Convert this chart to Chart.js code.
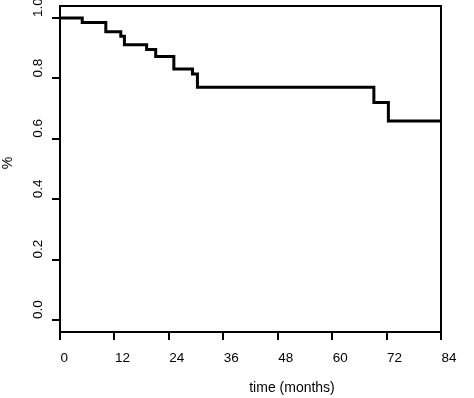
<!DOCTYPE html>
<html>
<head>
<meta charset="utf-8">
<script src="https://cdn.jsdelivr.net/npm/chart.js@4.4.1/dist/chart.umd.min.js"></script>
<style>
  html, body { margin: 0; padding: 0; background: #fff; }
  #wrap { width: 474px; height: 398px; }
</style>
</head>
<body>
<div id="wrap"><canvas id="kmChart" width="474" height="398"></canvas></div>
<script>
// Kaplan-Meier curve
const times    = [0, 4.9, 10.1, 13.4, 14.2, 19.1, 21.1, 25.1, 29.2, 30.3, 69.2, 72.4, 84];
const survival = [1.0, 0.985, 0.955, 0.940, 0.912, 0.896, 0.873, 0.831, 0.815, 0.771, 0.720, 0.659, 0.659];

const xTicks = [0, 12, 24, 36, 48, 60, 72, 84];
const yTicks = [0, 0.2, 0.4, 0.6, 0.8, 1.0];

const xTitle = 'time (months)';
const yTitle = '%';

const FONT = '"Liberation Sans", Arial, Helvetica, sans-serif';

// box + labels (labels start at the tick, as in the picture)
const rStyle = {
    id: 'rStyle',
    afterDraw(chart) {
        const ctx = chart.ctx;
        const a = chart.chartArea;
        const xs = chart.scales.x;
        const ys = chart.scales.y;

        ctx.save();
        ctx.strokeStyle = '#000';
        ctx.lineWidth = 2;
        ctx.strokeRect(a.left, a.top, a.right - a.left, a.bottom - a.top);

        ctx.fillStyle = '#000';
        ctx.font = '13.5px ' + FONT;
        ctx.textAlign = 'left';
        ctx.textBaseline = 'middle';

        xTicks.forEach(v => {
            ctx.fillText(String(v), xs.getPixelForValue(v) + 0.5, 358);
        });

        yTicks.forEach(v => {
            ctx.save();
            ctx.translate(38, ys.getPixelForValue(v) - 1);
            ctx.rotate(-Math.PI / 2);
            ctx.fillText(v.toFixed(1), 0, 0);
            ctx.restore();
        });

        ctx.textAlign = 'center';
        ctx.font = '14px ' + FONT;
        ctx.fillText(xTitle, 292, 388);

        ctx.save();
        ctx.translate(8, 163);
        ctx.rotate(-Math.PI / 2);
        ctx.fillText(yTitle, 0, 0);
        ctx.restore();

        ctx.restore();
    }
};

const ctx = document.getElementById('kmChart').getContext('2d');

new Chart(ctx, {
    type: 'line',
    data: {
        datasets: [{
            data: times.map((t, i) => ({ x: t, y: survival[i] })),
            stepped: true,
            borderColor: '#000',
            borderWidth: 3,
            pointRadius: 0,
            fill: false,
            borderCapStyle: 'butt',
            borderJoinStyle: 'miter'
        }]
    },
    options: {
        responsive: false,
        animation: false,
        layout: { padding: { left: 52, right: 33, top: 6, bottom: 58 } },
        plugins: {
            legend: { display: false },
            tooltip: { enabled: false }
        },
        scales: {
            x: {
                type: 'linear',
                min: 0,
                max: 84,
                afterBuildTicks: s => { s.ticks = xTicks.map(v => ({ value: v })); },
                ticks: { display: false },
                grid: { drawOnChartArea: false, drawTicks: true, tickLength: 8, color: '#000', lineWidth: 2 },
                border: { display: false }
            },
            y: {
                type: 'linear',
                min: -0.04,
                max: 1.04,
                afterBuildTicks: s => { s.ticks = yTicks.map(v => ({ value: v })); },
                ticks: { display: false },
                grid: { drawOnChartArea: false, drawTicks: true, tickLength: 8, color: '#000', lineWidth: 2 },
                border: { display: false }
            }
        }
    },
    plugins: [rStyle]
});
</script>
</body>
</html>
